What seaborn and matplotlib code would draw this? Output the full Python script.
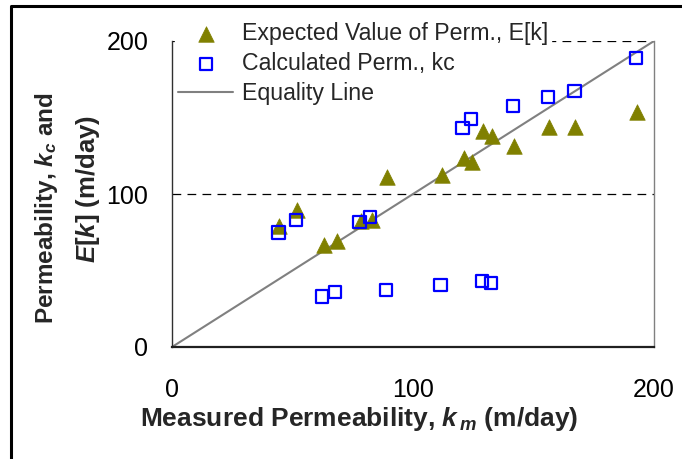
import numpy as np
import pandas as pd
import matplotlib
matplotlib.use("Agg")
import matplotlib.pyplot as plt
import seaborn as sns
from matplotlib.lines import Line2D

# ---- data ----
ek_measured = [44.4, 51.8, 62.9, 68.4, 78.4, 82.9, 89.2, 112.0, 121.0, 124.5,
               129.0, 132.7, 141.9, 156.5, 167.4, 192.8]
ek_value = [79.1, 89.6, 66.7, 69.6, 82.6, 83.0, 110.9, 112.4, 123.7, 121.1,
            141.1, 137.8, 131.3, 143.5, 143.5, 153.7]

kc_measured = [44.2, 51.4, 77.8, 82.2, 62.3, 67.6, 88.7, 111.4, 128.7, 132.3,
               120.5, 124.1, 141.4, 155.9, 167.0, 192.4]
kc_value = [74.8, 83.0, 81.7, 84.8, 33.0, 36.1, 37.4, 40.4, 43.3, 41.7,
            143.3, 148.9, 157.6, 163.5, 167.4, 189.1]

eq_x = [0, 200]
eq_y = [0, 200]

x_ticks = [0, 50, 100, 150, 200]
x_tick_labels = ["0", "", "100", "", "200"]
y_ticks = [0, 50, 100, 150, 200]
y_tick_labels = ["0", "", "100", "", "200"]
ref_lines = [100, 200]

labels = ["Expected Value of Perm., E[k]", "Calculated Perm., kc", "Equality Line"]

# ---- style ----
sns.set_theme(style="white")
plt.rcParams["font.family"] = ["Liberation Sans", "DejaVu Sans"]
plt.rcParams["mathtext.fontset"] = "custom"
plt.rcParams["mathtext.rm"] = "Liberation Sans:bold"
plt.rcParams["mathtext.it"] = "Liberation Sans:bold:italic"
plt.rcParams["mathtext.bf"] = "Liberation Sans:bold"

W, H = 682, 459
fig = plt.figure(figsize=(W / 100, H / 100), dpi=100)
fig.patch.set_facecolor("white")

L, R, T, B = 172, 654, 41, 347
ax = fig.add_axes([L / W, 1 - B / H, (R - L) / W, (B - T) / H])
ax.set_facecolor("white")

# dashed reference lines
for yv in ref_lines:
    ax.axhline(yv, color="black", lw=0.9, ls=(0, (7, 5)), zorder=1)

# equality line
sns.lineplot(x=eq_x, y=eq_y, ax=ax, color="#808080", lw=1.5, label=labels[2],
             zorder=2)

# expected values (triangles)
sns.scatterplot(x=ek_measured, y=ek_value, ax=ax, marker="^", s=125,
                color="#808000", edgecolor="#808000", linewidth=0.5,
                label=labels[0], zorder=3)

# calculated perm (hollow squares)
sns.scatterplot(x=kc_measured, y=kc_value, ax=ax, marker="s", s=78,
                facecolor="none", edgecolor="#0000FF", linewidth=1.6,
                label=labels[1], zorder=4)

ax.set_xlim(0, 200)
ax.set_ylim(0, 200)
ax.set_xticks(x_ticks)
ax.set_xticklabels(x_tick_labels)
ax.set_yticks(y_ticks)
ax.set_yticklabels(y_tick_labels)
ax.tick_params(axis="x", direction="in", length=6, width=1, pad=22,
               labelsize=18, colors="black")
ax.tick_params(axis="y", direction="in", length=6, width=1, pad=17,
               labelsize=18, colors="black")
ax.set_xlabel("")
ax.set_ylabel("")

ax.spines["top"].set_visible(False)
ax.spines["left"].set_visible(True)
ax.spines["bottom"].set_visible(True)
ax.spines["right"].set_visible(True)
ax.spines["left"].set_color("#303030")
ax.spines["left"].set_linewidth(1.0)
ax.spines["bottom"].set_color("#202020")
ax.spines["bottom"].set_linewidth(1.6)
ax.spines["right"].set_color("#808080")
ax.spines["right"].set_linewidth(1.0)

# legend (white box sits over the dashed lines but under the data)
handles, hl = ax.get_legend_handles_labels()
order = [hl.index(l) for l in labels]
leg = ax.legend([handles[i] for i in order], [hl[i] for i in order],
                loc="upper left", bbox_to_anchor=(175 / W, 1 - 19 / H),
                bbox_transform=fig.transFigure, frameon=True, fancybox=False,
                framealpha=1, facecolor="white", edgecolor="white",
                fontsize=16.7, handlelength=2.37, handletextpad=0.35,
                labelspacing=0.3, borderpad=0.15, borderaxespad=0,
                scatterpoints=1)
leg.set_zorder(1.5)

# axis labels
fig.text(359 / W, 1 - 419 / H,
         r"Measured Permeability, $k_{\,m}$ (m/day)",
         ha="center", va="center", fontsize=19, fontweight="bold")
fig.text(47 / W, 1 - 208 / H, r"Permeability, $k_c$ and",
         ha="center", va="center", rotation=90, fontsize=17.5, fontweight="bold")
fig.text(88 / W, 1 - 189 / H, r"$E[k]$ (m/day)",
         ha="center", va="center", rotation=90, fontsize=18.5, fontweight="bold")

# outer frame (top and left edges visible)
fig.add_artist(Line2D([11 / W, 11 / W, 1.0], [0.0, 1 - 5.5 / H, 1 - 5.5 / H],
                      transform=fig.transFigure, color="black", lw=2.2))

fig.savefig("out.png", dpi=100, facecolor="white")
